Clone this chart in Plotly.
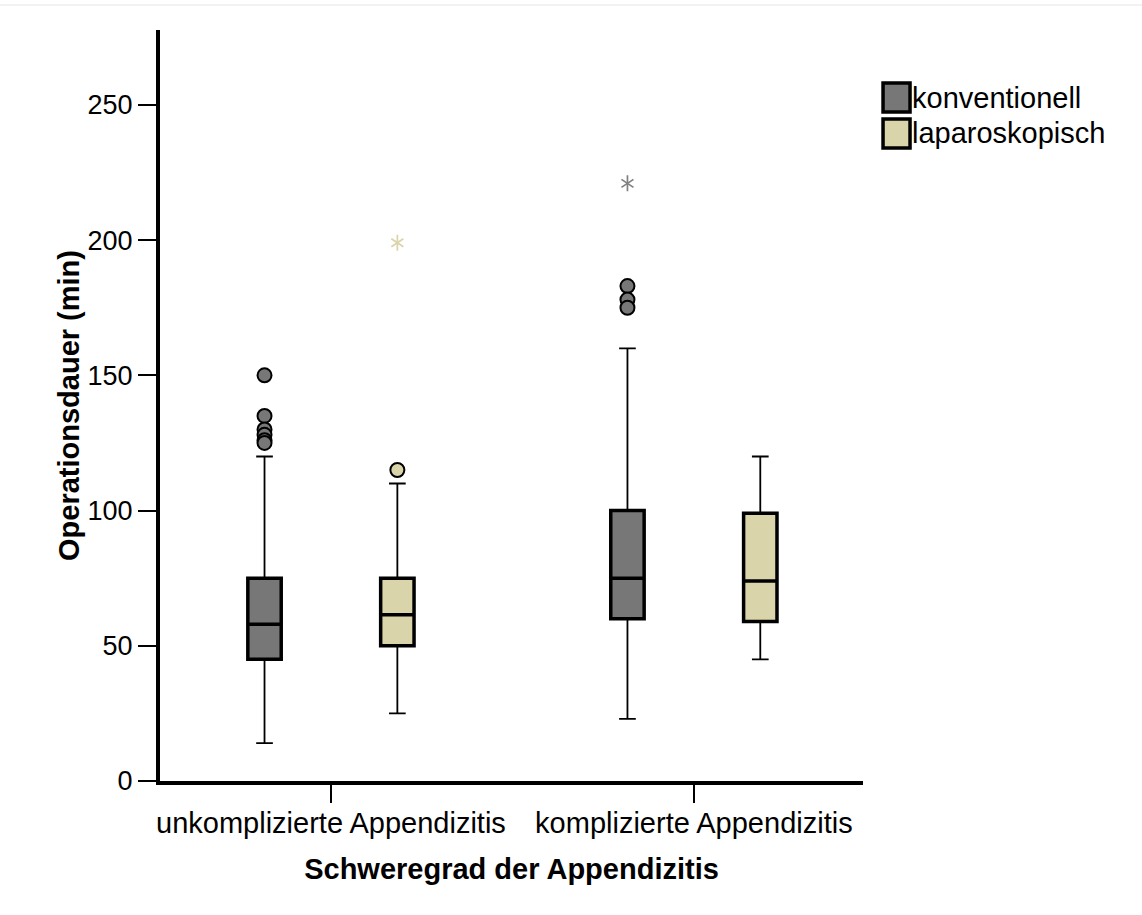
import plotly.graph_objects as go

# ---- data ----
categories = ["unkomplizierte Appendizitis", "komplizierte Appendizitis"]
groups = ["konventionell", "laparoskopisch"]

konv_low = [14, 23]
konv_q1 = [45, 60]
konv_median = [58, 75]
konv_q3 = [75, 100]
konv_high = [120, 160]
konv_outliers = [[150, 135, 130, 128, 126, 125], [183, 178, 175]]
konv_extremes = [[], [221]]

lap_low = [25, 45]
lap_q1 = [50, 59]
lap_median = [61.5, 74]
lap_q3 = [75, 99]
lap_high = [110, 120]
lap_outliers = [[115], []]
lap_extremes = [[199], []]

y_ticks = [0, 50, 100, 150, 200, 250]

# ---- style ----
FONT = "Liberation Sans, Arial, Helvetica, sans-serif"
colors = {"konventionell": "#777777", "laparoskopisch": "#d9d4a9"}
star_colors = {"konventionell": "#808080", "laparoskopisch": "#d9d4a9"}
cat_pos = [1, 2]
offsets = {"konventionell": -0.183, "laparoskopisch": 0.183}
BOX_W = 0.092

series = {
    "konventionell": (konv_low, konv_q1, konv_median, konv_q3, konv_high, konv_outliers, konv_extremes),
    "laparoskopisch": (lap_low, lap_q1, lap_median, lap_q3, lap_high, lap_outliers, lap_extremes),
}

fig = go.Figure()

for g in groups:
    low, q1, med, q3, high, outl, extr = series[g]
    xs = [c + offsets[g] for c in cat_pos]
    # thin whiskers
    fig.add_trace(go.Box(
        x=xs, q1=q1, median=med, q3=q3, lowerfence=low, upperfence=high,
        width=BOX_W, whiskerwidth=0.5, fillcolor=colors[g],
        line=dict(color="black", width=1.8), boxpoints=False,
        showlegend=False, hoverinfo="skip", name=g,
    ))
    # thick box on top
    fig.add_trace(go.Box(
        x=xs, q1=q1, median=med, q3=q3, lowerfence=q1, upperfence=q3,
        width=BOX_W, whiskerwidth=0, fillcolor=colors[g],
        line=dict(color="black", width=3.5), boxpoints=False,
        showlegend=False, name=g,
    ))
    ox, oy, ex, ey = [], [], [], []
    for i, c in enumerate(cat_pos):
        for v in outl[i]:
            ox.append(c + offsets[g]); oy.append(v)
        for v in extr[i]:
            ex.append(c + offsets[g]); ey.append(v)
    if oy:
        fig.add_trace(go.Scatter(
            x=ox, y=oy, mode="markers", showlegend=False,
            marker=dict(symbol="circle", size=14, color=colors[g],
                        line=dict(color="black", width=2)),
        ))
    if ey:
        for sym in ["y-up-open", "y-down-open"]:
            fig.add_trace(go.Scatter(
                x=ex, y=ey, mode="markers", showlegend=False,
                marker=dict(symbol=sym, size=10, color=star_colors[g],
                            line=dict(color=star_colors[g], width=1.7)),
            ))

# custom legend
leg_y = [(0.9294, 0.8908), (0.8815, 0.8429)]
shapes = []
annotations = []
for g, (y1, y0) in zip(groups, leg_y):
    shapes.append(dict(type="rect", xref="paper", yref="paper",
                       x0=1.0285, x1=1.0669, y0=y0, y1=y1,
                       fillcolor=colors[g], line=dict(color="black", width=3.5)))
    annotations.append(dict(xref="paper", yref="paper", x=1.067, y=(y0 + y1) / 2,
                            text=g, showarrow=False, xanchor="left", yanchor="middle",
                            font=dict(family=FONT, size=29, color="black")))
# faint top border line
shapes.append(dict(type="line", xref="paper", yref="paper", x0=-0.23, x1=1.4,
                   y0=1.0333, y1=1.0333, line=dict(color="#e6e6e6", width=1)))

fig.update_layout(
    width=1142, height=915,
    margin=dict(l=160, r=279, t=30, b=134),
    paper_bgcolor="white", plot_bgcolor="white",
    boxmode="overlay",
    showlegend=False,
    shapes=shapes, annotations=annotations,
    font=dict(family=FONT, size=29, color="black"),
    xaxis=dict(
        range=[0.529, 2.466], tickmode="array", tickvals=cat_pos, ticktext=categories,
        showline=True, linecolor="black", linewidth=4, ticks="outside", ticklen=18,
        tickwidth=2, tickcolor="black", showgrid=False, zeroline=False,
        ticklabelstandoff=-5,
        tickfont=dict(family=FONT, size=29, color="black"),
        title=dict(text="<b>Schweregrad der Appendizitis</b>", standoff=22,
                   font=dict(family=FONT, size=29, color="black")),
    ),
    yaxis=dict(
        range=[0, 277.7], tickmode="array", tickvals=y_ticks,
        showline=True, linecolor="black", linewidth=4, ticks="outside", ticklen=18,
        tickwidth=2, tickcolor="black", showgrid=False, zeroline=False,
        tickfont=dict(family=FONT, size=27, color="black"),
        title=dict(text="<b>Operationsdauer (min)</b>", standoff=0,
                   font=dict(family=FONT, size=29, color="black")),
    ),
)

fig.write_html("out.html")
